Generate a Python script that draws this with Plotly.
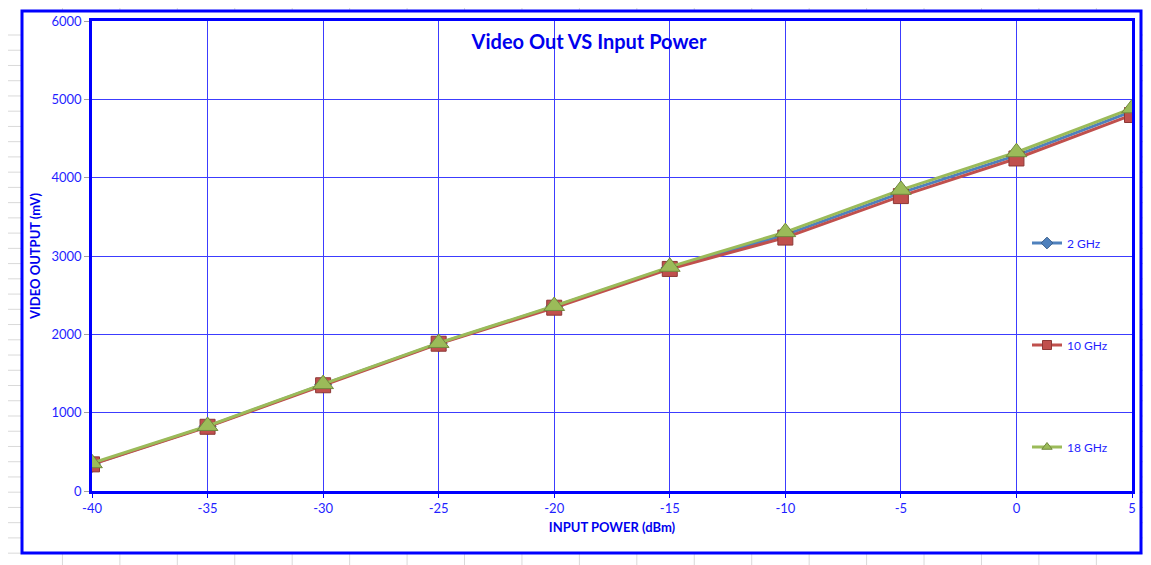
import plotly.graph_objects as go

# ---- data ----
input_power = [-40, -35, -30, -25, -20, -15, -10, -5, 0, 5]
series_names = ["2 GHz", "10 GHz", "18 GHz"]
v_2ghz = [345, 825, 1360, 1885, 2355, 2850, 3270, 3805, 4285, 4845]
v_10ghz = [340, 820, 1350, 1880, 2340, 2835, 3235, 3765, 4245, 4800]
v_18ghz = [355, 830, 1365, 1890, 2362, 2862, 3305, 3845, 4325, 4885]
x_ticks = [-40, -35, -30, -25, -20, -15, -10, -5, 0, 5]
y_ticks = [0, 1000, 2000, 3000, 4000, 5000, 6000]

OFF = 8  # page body margin
PW, PH = 1151, 565
W, H = PW - OFF, PH - OFF
# plot-area edges in page pixels
L, R, T, B = 92, 1132, 21, 491
BLUE = "#1F1FFF"
FONT = "Lato"

def px(xp):
    return (xp - L) / (R - L)

def py(yp):
    return (B - yp) / (B - T)

fig = go.Figure()

styles = [
    dict(color="#4F81BD", symbol="diamond", size=13, lc="#385D8A"),
    dict(color="#C0504D", symbol="square", size=15, lc="#8C3836"),
    dict(color="#9BBB59", symbol="triangle-up", size=18, lc="#71893F"),
]
values = [v_2ghz, v_10ghz, v_18ghz]
legends = ["legend", "legend2", "legend3"]

for name, vals, st, lg in zip(series_names, values, styles, legends):
    fig.add_trace(go.Scatter(
        x=input_power, y=vals, mode="lines+markers", name=name,
        line=dict(color=st["color"], width=3),
        marker=dict(symbol=st["symbol"], size=st["size"], color=st["color"],
                    line=dict(color=st["lc"], width=1)),
        showlegend=False, hoverinfo="x+y+name",
    ))
    # legend entry with small marker, like the original
    fig.add_trace(go.Scatter(
        x=[None], y=[None], mode="lines+markers", name=name, legend=lg,
        line=dict(color=st["color"], width=3),
        marker=dict(symbol=st["symbol"], size=9, color=st["color"],
                    line=dict(color=st["lc"], width=1)),
        showlegend=True,
    ))

# ---- Excel worksheet grid in the background ----
shapes = []
GRAY = "#D9D9D9"
col_x = [5 + 57.44 * k for k in range(21)]
row_y = [7] + [35 + 15.24 * k for k in range(36)]
for cx in col_x:
    if cx > PW:
        break
    shapes.append(dict(type="line", xref="paper", yref="paper", layer="below",
                       x0=px(cx), x1=px(cx), y0=py(7), y1=py(PH + 5),
                       line=dict(color=GRAY, width=1)))
for ry in row_y:
    if ry > PH:
        break
    shapes.append(dict(type="line", xref="paper", yref="paper", layer="below",
                       x0=px(5), x1=px(PW + 5), y0=py(ry), y1=py(ry),
                       line=dict(color=GRAY, width=1)))
# chart area
shapes.append(dict(type="rect", xref="paper", yref="paper", layer="below",
                   x0=px(22), x1=px(1141), y0=py(553), y1=py(11),
                   fillcolor="white", line=dict(color="#0000FF", width=3)))

fig.update_layout(
    width=W, height=H,
    margin=dict(l=L - OFF, r=PW - R, t=T - OFF, b=PH - B, autoexpand=False),
    paper_bgcolor="white", plot_bgcolor="rgba(0,0,0,0)",
    font=dict(family=FONT, color=BLUE, size=13),
    shapes=shapes,
    title=dict(text="<b>Video Out VS Input Power</b>", x=(589 - OFF) / W, xanchor="center",
               y=1 - (42 - OFF) / H, yanchor="middle",
               font=dict(family=FONT, size=20, color="#0000EE")),
    xaxis=dict(range=[-40, 5], tickvals=x_ticks, ticktext=[str(v) for v in x_ticks],
               showgrid=True, gridcolor="#3C3CFF", gridwidth=1.2,
               showline=True, linecolor="#0000FF", linewidth=2.5, mirror=True,
               ticks="outside", ticklen=4, tickcolor="#0000FF",
               zeroline=False,
               tickfont=dict(family=FONT, size=13, color=BLUE),
               title=dict(text="<b>INPUT POWER (dBm)</b>", standoff=8,
                          font=dict(family=FONT, size=13, color="#0000EE"))),
    yaxis=dict(range=[0, 6000], tickvals=y_ticks, ticktext=[str(v) for v in y_ticks],
               showgrid=True, gridcolor="#3C3CFF", gridwidth=1.2,
               showline=True, linecolor="#0000FF", linewidth=2.5, mirror=True,
               ticks="outside", ticklen=5, tickcolor="#A0A0A0",
               zeroline=False,
               tickfont=dict(family=FONT, size=13, color=BLUE),
               title=dict(text="<b>VIDEO OUTPUT (mV)</b>", standoff=8,
                          font=dict(family=FONT, size=13, color="#0000EE"))),
    legend=dict(x=px(1027), y=py(243), xanchor="left", yanchor="middle",
                bgcolor="rgba(0,0,0,0)", font=dict(family=FONT, size=12, color=BLUE),
                itemwidth=30),
    legend2=dict(x=px(1027), y=py(345), xanchor="left", yanchor="middle",
                 bgcolor="rgba(0,0,0,0)", font=dict(family=FONT, size=12, color=BLUE),
                 itemwidth=30),
    legend3=dict(x=px(1027), y=py(447), xanchor="left", yanchor="middle",
                 bgcolor="rgba(0,0,0,0)", font=dict(family=FONT, size=12, color=BLUE),
                 itemwidth=30),
)

fig.write_html("out.html")
